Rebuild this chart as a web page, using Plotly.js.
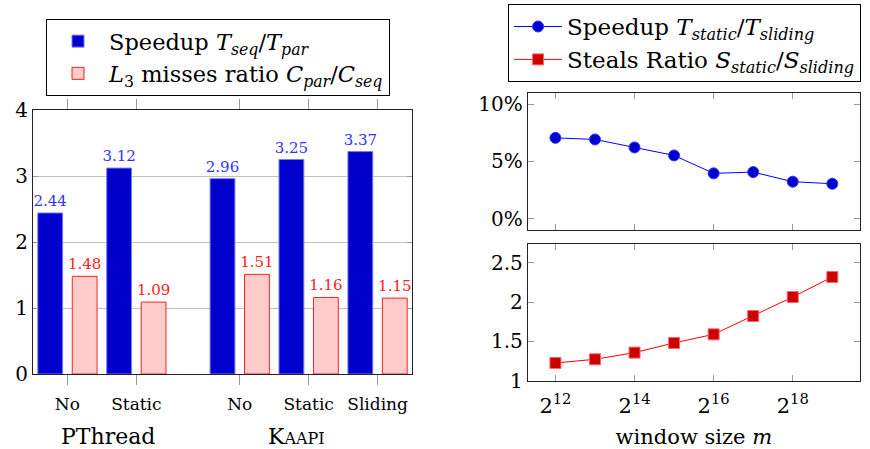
<!DOCTYPE html>
<html><head><meta charset="utf-8">
<script src="https://cdn.plot.ly/plotly-3.0.1.min.js"></script>
<style>body{margin:0;background:#fff;}</style>
</head><body>
<div id="chart" style="width:870px;height:449px;"></div>
<script>
// ---- data ----
const categories = ['No', 'Static', 'No', 'Static', 'Sliding'];
const groupLabels = ['PThread', 'K<span style="font-size:16px">AAPI</span>'];
const speedup = [2.44, 3.12, 2.96, 3.25, 3.37];
const l3ratio = [1.48, 1.09, 1.51, 1.16, 1.15];
const windowExp = [12, 13, 14, 15, 16, 17, 18, 19];
const speedupPct = [7.07, 6.93, 6.23, 5.53, 3.96, 4.07, 3.23, 3.05];
const stealsRatio = [1.225, 1.272, 1.357, 1.48, 1.59, 1.823, 2.065, 2.32];
const xTickExp = [12, 14, 16, 18];
const pctTicks = [0, 5, 10];
const ratioTicks = [1, 1.5, 2, 2.5];

// ---- layout constants ----
const catPos = [0, 1, 2.5, 3.5, 4.5];
const groupPos = [0.59, 3.33];
const FONT = '"DejaVu Serif", serif';
const f = (size, color) => ({family: FONT, size: size, color: color || '#000'});

const traces = [
  {
    type: 'bar', x: catPos, y: speedup, width: 0.36, offset: -0.43,
    name: 'Speedup <i>T</i><sub><i>seq</i></sub>/<i>T</i><sub><i>par</i></sub>',
    marker: {color: '#0000cc', line: {color: '#7777ff', width: 1}},
    texttemplate: '%{y:.2f}', textposition: 'outside', constraintext: 'none', cliponaxis: false,
    textfont: f(15, '#3333ff'),
    xaxis: 'x', yaxis: 'y', legend: 'legend', hoverinfo: 'skip'
  },
  {
    type: 'bar', x: catPos, y: l3ratio, width: 0.36, offset: 0.07,
    name: '<i>L</i><sub>3</sub> misses ratio <i>C</i><sub><i>par</i></sub>/<i>C</i><sub><i>seq</i></sub>',
    marker: {color: '#ffcccc', line: {color: '#ff2020', width: 1}},
    texttemplate: '%{y:.2f}', textposition: 'outside', constraintext: 'none', cliponaxis: false,
    textfont: f(15, '#ff2020'),
    xaxis: 'x', yaxis: 'y', legend: 'legend', hoverinfo: 'skip'
  },
  {
    type: 'scatter', mode: 'lines+markers', x: windowExp, y: speedupPct,
    name: 'Speedup <i>T</i><sub><i>static</i></sub>/<i>T</i><sub><i>sliding</i></sub>',
    line: {color: '#0000ff', width: 1},
    marker: {symbol: 'circle', size: 11, color: '#0000cc', line: {color: '#3333ff', width: 1}},
    xaxis: 'x3', yaxis: 'y2', legend: 'legend2', cliponaxis: false
  },
  {
    type: 'scatter', mode: 'lines+markers', x: windowExp, y: stealsRatio,
    name: 'Steals Ratio <i>S</i><sub><i>static</i></sub>/<i>S</i><sub><i>sliding</i></sub>',
    line: {color: '#ff0000', width: 1},
    marker: {symbol: 'square', size: 11, color: '#cc0000', line: {color: '#ff6666', width: 1}},
    xaxis: 'x2', yaxis: 'y3', legend: 'legend2', cliponaxis: false
  }
];

const frame = {showline: true, linecolor: '#222', linewidth: 1, zeroline: false, tickcolor: '#999'};

const layout = {
  width: 870, height: 449,
  margin: {l: 0, r: 0, t: 0, b: 0},
  paper_bgcolor: '#fff', plot_bgcolor: '#fff',
  font: f(18),
  barmode: 'overlay',
  xaxis: Object.assign({}, frame, {
    domain: [0.0379, 0.4736], anchor: 'y', range: [-0.5, 5.0],
    tickmode: 'array', tickvals: catPos, ticktext: categories,
    ticks: 'outside', ticklen: 10, mirror: 'ticks', showgrid: false,
    tickfont: f(17), ticklabelstandoff: 5
  }),
  yaxis: Object.assign({}, frame, {
    domain: [0.167, 0.755], anchor: 'x', range: [0, 4], dtick: 1,
    showgrid: true, gridcolor: '#c0c0c0', ticks: 'inside', ticklen: 5, mirror: 'ticks',
    tickfont: f(20)
  }),
  xaxis3: Object.assign({}, frame, {
    domain: [0.6066, 0.9885], anchor: 'y2', range: [11.3, 19.7],
    tickmode: 'array', tickvals: xTickExp, showticklabels: false,
    ticks: 'inside', ticklen: 6, mirror: 'ticks', showgrid: false
  }),
  yaxis2: Object.assign({}, frame, {
    domain: [0.4878, 0.7929], anchor: 'x3', range: [-1, 11],
    tickmode: 'array', tickvals: pctTicks, ticktext: pctTicks.map(v => v + '%'),
    ticks: 'inside', ticklen: 6, mirror: 'ticks', showgrid: false,
    tickfont: f(20)
  }),
  xaxis2: Object.assign({}, frame, {
    domain: [0.6066, 0.9885], anchor: 'y3', range: [11.3, 19.7],
    tickmode: 'array', tickvals: xTickExp, ticktext: xTickExp.map(e => '2<sup>' + e + '</sup>'),
    ticks: 'inside', ticklen: 6, mirror: 'ticks', showgrid: false,
    tickfont: f(21), ticklabelstandoff: 6,
    title: {text: 'window size <i>m</i>', font: f(21), standoff: 16}
  }),
  yaxis3: Object.assign({}, frame, {
    domain: [0.1522, 0.4566], anchor: 'x2', range: [1, 2.74],
    tickmode: 'array', tickvals: ratioTicks,
    ticks: 'inside', ticklen: 6, mirror: 'ticks', showgrid: false,
    tickfont: f(20)
  }),
  legend: {
    x: 0.0529, y: 0.9577, xanchor: 'left', yanchor: 'top',
    bgcolor: '#fff', bordercolor: '#000', borderwidth: 1,
    font: f(22.5), traceorder: 'normal', itemwidth: 52
  },
  legend2: {
    x: 0.584, y: 0.991, xanchor: 'left', yanchor: 'top',
    bgcolor: '#fff', bordercolor: '#000', borderwidth: 1,
    font: f(23), traceorder: 'normal', itemwidth: 48
  },
  annotations: groupLabels.map((t, i) => ({
    text: t, x: groupPos[i], xref: 'x', y: 0.027, yref: 'paper',
    xanchor: 'center', yanchor: 'middle', showarrow: false, font: f(22)
  })),
  showlegend: true
};

Plotly.newPlot('chart', traces, layout, {displayModeBar: false, staticPlot: true});
</script>
</body></html>
